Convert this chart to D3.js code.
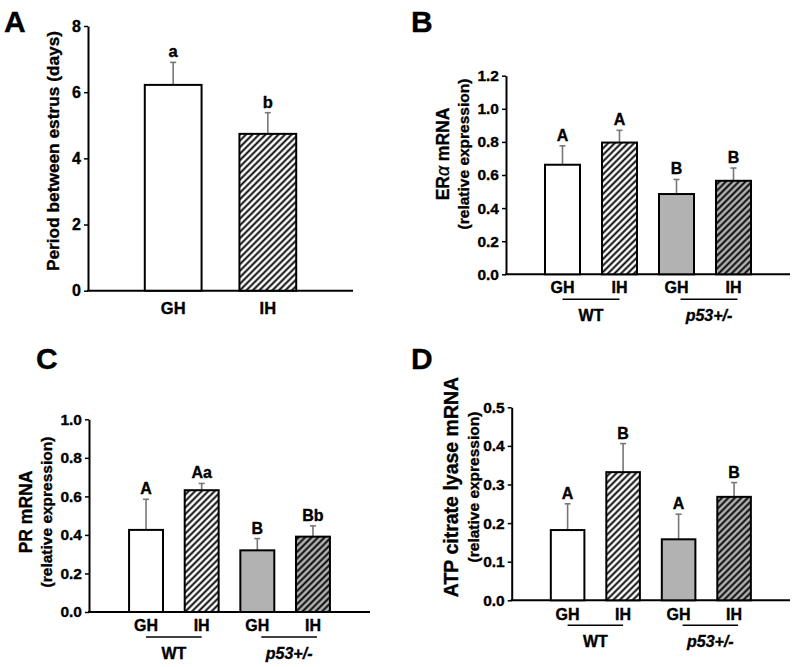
<!DOCTYPE html>
<html>
<head>
<meta charset="utf-8">
<script src="https://cdn.jsdelivr.net/npm/d3@7"></script>
<style>
    body { margin: 0; background: #fff; }
    svg { display: block; }
    text { font-family: Arial, "Liberation Sans", sans-serif; font-weight: bold; fill: #000; stroke: #000; stroke-width: 0.35px; }
</style>
</head>
<body>
<div id="chart"></div>
<script>
// ---- data ----
const groupsA = ["GH", "IH"];
const meansA = [6.22, 4.74];
const errorsA = [0.68, 0.64];
const lettersA = ["a", "b"];
const fillsA = ["white", "hatch"];

const treatments = ["GH", "IH", "GH", "IH"];
const genotypes = ["WT", "p53+/-"];
const fills4 = ["white", "hatch", "gray", "grayhatch"];

const meansB = [0.662, 0.796, 0.485, 0.565];
const errorsB = [0.114, 0.074, 0.088, 0.077];
const lettersB = ["A", "A", "B", "B"];

const meansC = [0.426, 0.632, 0.320, 0.391];
const errorsC = [0.159, 0.035, 0.061, 0.056];
const lettersC = ["A", "Aa", "B", "Bb"];

const meansD = [0.182, 0.332, 0.158, 0.268];
const errorsD = [0.068, 0.074, 0.065, 0.037];
const lettersD = ["A", "B", "A", "B"];

const ticksA = [0, 2, 4, 6, 8];
const ticksB = [0, 0.2, 0.4, 0.6, 0.8, 1.0, 1.2];
const ticksC = [0, 0.2, 0.4, 0.6, 0.8, 1.0];
const ticksD = [0, 0.1, 0.2, 0.3, 0.4, 0.5];

// ---- svg ----
const svg = d3.select("#chart").append("svg")
    .attr("width", 800)
    .attr("height", 667);

const defs = svg.append("defs");
function hatch(id, bg) {
    let p = defs.append("pattern")
        .attr("id", id)
        .attr("patternUnits", "userSpaceOnUse")
        .attr("width", 4.6)
        .attr("height", 4.6)
        .attr("patternTransform", "rotate(45)");
    p.append("rect").attr("width", 4.6).attr("height", 4.6).attr("fill", bg);
    p.append("line")
        .attr("x1", 2.3).attr("y1", 0).attr("x2", 2.3).attr("y2", 4.6)
        .attr("stroke", "#000").attr("stroke-width", 1.9);
}
hatch("hatchWhite", "#fff");
hatch("hatchGray", "#b2b2b2");

const fillColor = {
    white: "#fff",
    hatch: "url(#hatchWhite)",
    gray: "#b2b2b2",
    grayhatch: "url(#hatchGray)"
};

function drawPanel(p) {
    let g = svg.append("g");
    let n = p.means.length;

    let x = d3.scaleBand()
        .domain(d3.range(n))
        .range([p.left, p.right])
        .paddingInner(p.padIn)
        .paddingOuter(p.padOut);

    let y = d3.scaleLinear()
        .domain([0, p.ymax])
        .range([p.bottom, p.top]);

    // y axis
    let yAxis = d3.axisLeft(y)
        .tickValues(p.ticks)
        .tickFormat(p.format)
        .tickSize(4)
        .tickSizeOuter(0)
        .tickPadding(3);

    let ag = g.append("g")
        .attr("transform", `translate(${p.left},0)`)
        .call(yAxis);
    ag.select(".domain").attr("stroke-width", 2).attr("stroke", "#000");
    ag.selectAll(".tick line").attr("stroke-width", 1.5).attr("stroke", "#000");
    ag.selectAll(".tick text")
        .attr("font-size", p.fs)
        .attr("fill", "#000");

    // x axis line
    g.append("line")
        .attr("x1", p.left - 1).attr("x2", p.right)
        .attr("y1", y(0)).attr("y2", y(0))
        .attr("stroke", "#000").attr("stroke-width", 2);

    let data = p.means.map((m, i) => ({i: i, mean: m, err: p.errors[i], letter: p.letters[i], fill: p.fills[i], label: p.labels[i]}));

    // error bars
    g.selectAll(".err")
        .data(data)
        .enter().append("line")
        .attr("x1", d => x(d.i) + x.bandwidth() / 2)
        .attr("x2", d => x(d.i) + x.bandwidth() / 2)
        .attr("y1", d => y(d.mean))
        .attr("y2", d => y(d.mean + d.err))
        .attr("stroke", "#777").attr("stroke-width", 1.6);
    g.selectAll(".cap")
        .data(data)
        .enter().append("line")
        .attr("x1", d => x(d.i) + x.bandwidth() / 2 - 3)
        .attr("x2", d => x(d.i) + x.bandwidth() / 2 + 3)
        .attr("y1", d => y(d.mean + d.err))
        .attr("y2", d => y(d.mean + d.err))
        .attr("stroke", "#777").attr("stroke-width", 1.6);

    // bars
    g.selectAll(".bar")
        .data(data)
        .enter().append("rect")
        .attr("x", d => x(d.i))
        .attr("y", d => y(d.mean))
        .attr("width", x.bandwidth())
        .attr("height", d => y(0) - y(d.mean))
        .attr("fill", d => fillColor[d.fill])
        .attr("stroke", "#000")
        .attr("stroke-width", 2);

    // significance letters
    g.selectAll(".letter")
        .data(data)
        .enter().append("text")
        .attr("x", d => x(d.i) + x.bandwidth() / 2)
        .attr("y", d => y(d.mean + d.err) - 5)
        .attr("text-anchor", "middle")
        .attr("font-size", p.fs + 0.5)
        .text(d => d.letter);

    // category labels
    g.selectAll(".xlab")
        .data(data)
        .enter().append("text")
        .attr("x", d => x(d.i) + x.bandwidth() / 2)
        .attr("y", y(0) + p.labelGap)
        .attr("text-anchor", "middle")
        .attr("font-size", p.fs + 0.5)
        .text(d => d.label);

    // genotype group lines
    if (p.groups) {
        p.groups.forEach((name, k) => {
            let shift = k === 1 ? 4 : 0;
            let x1 = x(2 * k) + x.bandwidth() / 2 + shift;
            let x2 = x(2 * k + 1) + x.bandwidth() / 2 + shift;
            g.append("line")
                .attr("x1", x1).attr("x2", x2)
                .attr("y1", y(0) + 25).attr("y2", y(0) + 25)
                .attr("stroke", "#000").attr("stroke-width", 1.5);
            g.append("text")
                .attr("x", (x1 + x2) / 2)
                .attr("y", y(0) + 47)
                .attr("text-anchor", "middle")
                .attr("font-size", p.fs + 0.5)
                .attr("font-style", k === 1 ? "italic" : "normal")
                .text(name);
        });
    }

    // y title
    p.title.forEach((t, k) => {
        let tx = g.append("text")
            .attr("transform", `translate(${p.titleX[k]},${p.titleY}) rotate(-90)`)
            .attr("text-anchor", "middle")
            .attr("font-size", p.titleFs[k]);
        if (t.indexOf("α") >= 0) {
            let parts = t.split("α");
            tx.append("tspan").text(parts[0]);
            tx.append("tspan").attr("font-style", "italic").attr("font-weight", "normal").text("α");
            tx.append("tspan").text(parts[1]);
        } else {
            tx.text(t);
        }
    });

    // panel letter
    svg.append("text")
        .attr("x", p.letterX)
        .attr("y", p.letterY)
        .attr("font-size", 30)
        .text(p.letter);
}

drawPanel({
    means: meansA, errors: errorsA, letters: lettersA, fills: fillsA, labels: groupsA,
    left: 88, right: 353, top: 26, bottom: 290.7, ymax: 8,
    padIn: 0.4, padOut: 0.6, ticks: ticksA, format: d3.format("d"),
    fs: 16, labelGap: 23, titleFs: [17.3],
    title: ["Period between estrus (days)"], titleX: [59], titleY: 151,
    letter: "A", letterX: 4, letterY: 31.5
});

drawPanel({
    means: meansB, errors: errorsB, letters: lettersB, fills: fills4, labels: treatments,
    groups: genotypes,
    left: 506, right: 790, top: 75.7, bottom: 274.3, ymax: 1.2,
    padIn: 0.386, padOut: 0.684, ticks: ticksB, format: d3.format(".1f"),
    fs: 15.5, labelGap: 19, titleFs: [17.5, 15.5],
    title: ["ERα mRNA", "(relative expression)"], titleX: [449, 469], titleY: 154,
    letter: "B", letterX: 411, letterY: 31.5
});

drawPanel({
    means: meansC, errors: errorsC, letters: lettersC, fills: fills4, labels: treatments,
    groups: genotypes,
    left: 89, right: 370, top: 419.3, bottom: 612, ymax: 1.0,
    padIn: 0.39, padOut: 0.72, ticks: ticksC, format: d3.format(".1f"),
    fs: 15.5, labelGap: 18.5, titleFs: [17.5, 15.5],
    title: ["PR mRNA", "(relative expression)"], titleX: [32, 52], titleY: 512,
    letter: "C", letterX: 36, letterY: 369
});

drawPanel({
    means: meansD, errors: errorsD, letters: lettersD, fills: fills4, labels: treatments,
    groups: genotypes,
    left: 511.7, right: 790, top: 407.3, bottom: 600.3, ymax: 0.5,
    padIn: 0.395, padOut: 0.705, ticks: ticksD, format: d3.format(".1f"),
    fs: 15.5, labelGap: 19.5, titleFs: [19.5, 15.5],
    title: ["ATP citrate lyase mRNA", "(relative expression)"], titleX: [458, 479], titleY: 487,
    letter: "D", letterX: 411, letterY: 369
});
</script>
</body>
</html>
